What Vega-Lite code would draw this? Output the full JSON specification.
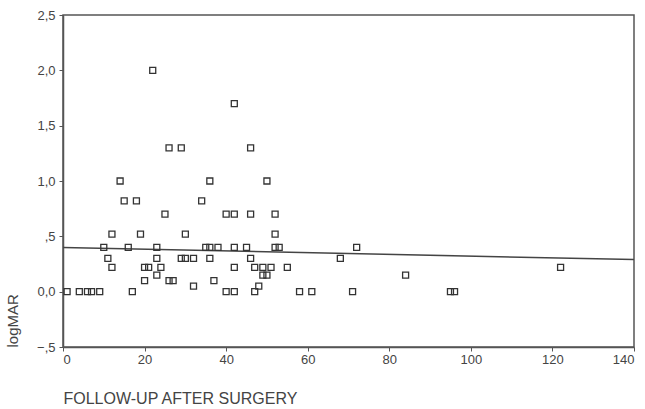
{
  "$schema": "https://vega.github.io/schema/vega-lite/v6.json",
  "width": 571,
  "height": 332,
  "autosize": {"type": "none"},
  "padding": {"left": 63, "top": 15, "right": 11, "bottom": 62},
  "background": "white",
  "config": {
    "view": {"stroke": "#555", "strokeWidth": 1.5},
    "font": "Liberation Sans",
    "axis": {
      "grid": false,
      "domainColor": "#555",
      "domainWidth": 1.5,
      "tickColor": "#555",
      "tickSize": 4,
      "labelColor": "#444",
      "labelFontSize": 13,
      "labelFont": "Liberation Sans",
      "titleFont": "Liberation Sans",
      "titleFontWeight": "normal",
      "titleColor": "#444",
      "titleFontSize": 15
    }
  },
  "datasets": {
    "points": [
      {"followup": 1, "logMAR": 0}, {"followup": 4, "logMAR": 0}, {"followup": 6, "logMAR": 0}, {"followup": 7, "logMAR": 0}, {"followup": 9, "logMAR": 0},
      {"followup": 10, "logMAR": 0.4}, {"followup": 11, "logMAR": 0.3}, {"followup": 12, "logMAR": 0.22}, {"followup": 12, "logMAR": 0.52},
      {"followup": 14, "logMAR": 1.0}, {"followup": 15, "logMAR": 0.82}, {"followup": 18, "logMAR": 0.82}, {"followup": 16, "logMAR": 0.4},
      {"followup": 17, "logMAR": 0}, {"followup": 19, "logMAR": 0.52}, {"followup": 20, "logMAR": 0.22}, {"followup": 21, "logMAR": 0.22},
      {"followup": 20, "logMAR": 0.1}, {"followup": 22, "logMAR": 2.0}, {"followup": 23, "logMAR": 0.4}, {"followup": 23, "logMAR": 0.3},
      {"followup": 23, "logMAR": 0.15}, {"followup": 24, "logMAR": 0.22}, {"followup": 25, "logMAR": 0.7}, {"followup": 26, "logMAR": 0.1},
      {"followup": 27, "logMAR": 0.1}, {"followup": 26, "logMAR": 1.3}, {"followup": 29, "logMAR": 1.3}, {"followup": 30, "logMAR": 0.52},
      {"followup": 29, "logMAR": 0.3}, {"followup": 30, "logMAR": 0.3}, {"followup": 32, "logMAR": 0.3}, {"followup": 32, "logMAR": 0.05},
      {"followup": 34, "logMAR": 0.82}, {"followup": 36, "logMAR": 1.0}, {"followup": 35, "logMAR": 0.4}, {"followup": 36, "logMAR": 0.4},
      {"followup": 38, "logMAR": 0.4}, {"followup": 36, "logMAR": 0.3}, {"followup": 37, "logMAR": 0.1},
      {"followup": 42, "logMAR": 1.7}, {"followup": 46, "logMAR": 1.3}, {"followup": 50, "logMAR": 1.0},
      {"followup": 40, "logMAR": 0.7}, {"followup": 42, "logMAR": 0.7}, {"followup": 46, "logMAR": 0.7}, {"followup": 52, "logMAR": 0.7},
      {"followup": 52, "logMAR": 0.52}, {"followup": 42, "logMAR": 0.4}, {"followup": 45, "logMAR": 0.4}, {"followup": 52, "logMAR": 0.4},
      {"followup": 53, "logMAR": 0.4}, {"followup": 46, "logMAR": 0.3}, {"followup": 42, "logMAR": 0.22}, {"followup": 47, "logMAR": 0.22},
      {"followup": 49, "logMAR": 0.22}, {"followup": 51, "logMAR": 0.22}, {"followup": 55, "logMAR": 0.22}, {"followup": 49, "logMAR": 0.15},
      {"followup": 50, "logMAR": 0.15}, {"followup": 48, "logMAR": 0.05}, {"followup": 40, "logMAR": 0}, {"followup": 42, "logMAR": 0},
      {"followup": 47, "logMAR": 0}, {"followup": 58, "logMAR": 0}, {"followup": 61, "logMAR": 0}, {"followup": 68, "logMAR": 0.3},
      {"followup": 72, "logMAR": 0.4}, {"followup": 71, "logMAR": 0}, {"followup": 84, "logMAR": 0.15}, {"followup": 95, "logMAR": 0},
      {"followup": 96, "logMAR": 0}, {"followup": 122, "logMAR": 0.22}
    ],
    "fit": [
      {"followup": 0, "logMAR": 0.40},
      {"followup": 140, "logMAR": 0.29}
    ]
  },
  "layer": [
    {
      "data": {"name": "fit"},
      "mark": {"type": "line", "color": "#444", "strokeWidth": 1.5},
      "encoding": {
        "x": {"field": "followup", "type": "quantitative"},
        "y": {"field": "logMAR", "type": "quantitative"}
      }
    },
    {
      "data": {"name": "points"},
      "mark": {"type": "point", "shape": "square", "filled": false, "size": 36, "color": "#333", "strokeWidth": 1.3, "opacity": 1},
      "encoding": {
        "x": {
          "field": "followup", "type": "quantitative",
          "scale": {"domain": [0, 140], "nice": false},
          "axis": {"values": [0, 20, 40, 60, 80, 100, 120, 140], "title": "FOLLOW-UP AFTER SURGERY", "titleAnchor": "start", "titleFontSize": 16, "titlePadding": 24, "labelPadding": 2}
        },
        "y": {
          "field": "logMAR", "type": "quantitative",
          "scale": {"domain": [-0.5, 2.5], "nice": false, "zero": false},
          "axis": {
            "values": [-0.5, 0, 0.5, 1, 1.5, 2, 2.5],
            "labelExpr": "datum.value == 0 ? '0,0' : replace(replace(format(datum.value, '.1f'), '0.', '.'), '.', ',')",
            "title": "logMAR", "titleAnchor": "start", "titlePadding": 16, "labelPadding": 4
          }
        }
      }
    }
  ]
}
